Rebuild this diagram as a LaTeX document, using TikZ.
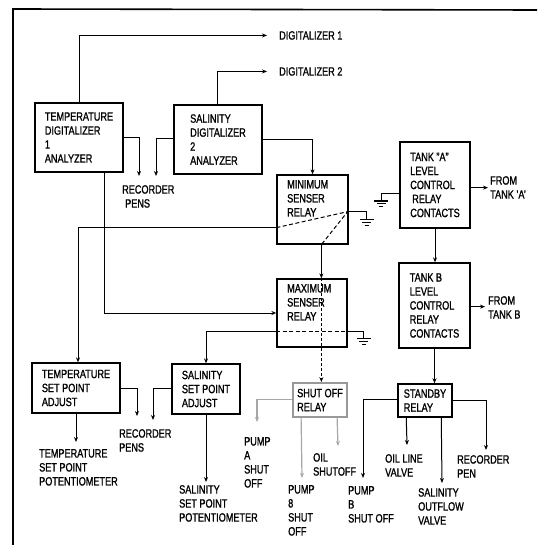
\documentclass[tikz,border=0pt]{standalone}
\usepackage{fontspec}
\setmainfont{Liberation Sans}[FakeStretch=0.76,FakeBold=1.2]
\usetikzlibrary{arrows.meta,calc}
\newcommand{\mygnd}[2][1pt]{%
  \draw[line width=#1] ($(#2)+(-7,0)$) -- ($(#2)+(7,0)$);
  \draw[line width=1pt] ($(#2)+(-4.5,3)$) -- ($(#2)+(4.5,3)$);
  \draw[line width=1pt] ($(#2)+(-2,6)$) -- ($(#2)+(2,6)$);}
\begin{document}
\begin{tikzpicture}[x=1pt,y=-1pt,font=\fontsize{12}{14}\selectfont,
  box/.style={draw, line width=1.3pt, inner sep=0pt, align=left},
  lbl/.style={anchor=north west, inner sep=0pt, align=left},
  wire/.style={line width=1pt},
  gwire/.style={line width=1.2pt, draw=gray!70},
  arr/.style={-{Stealth[length=5pt,width=4pt]}},
  dashes/.style={dash pattern=on 4pt off 2.5pt}]
\useasboundingbox (0,0) rectangle (537,545);
% frame
\draw[line width=1.6pt] (13,545) -- (13,9) -- (537,10);
% boxes
\node[box, minimum width=88pt, minimum height=69pt] (tdig) at (79,137.5) {TEMPERATURE\\DIGITALIZER\\1\\ANALYZER};
\node[box, minimum width=88pt, minimum height=69pt] (sdig) at (218,139.5) {SALINITY\\DIGITALIZER\\2\\ANALYZER};
\node[box, minimum width=71pt, minimum height=69pt] (minr) at (312.5,209.5) {};
\node[lbl] (minT) at (287,180) {MINIMUM\\SENSER\\RELAY};
\node[box, minimum width=70pt, minimum height=68pt] (maxr) at (312,313) {};
\node[lbl] (maxT) at (287,284) {MAXIMUM\\SENSER\\RELAY};
\node[box, minimum width=70pt, minimum height=86pt] (tka) at (435,185) {TANK "A"\\LEVEL\\CONTROL\\\hspace*{2pt}RELAY\\CONTACTS};
\node[box, minimum width=71pt, minimum height=85pt] (tkb) at (434.5,305.5) {TANK B\\LEVEL\\CONTROL\\RELAY\\CONTACTS};
\node[box, minimum width=88pt, minimum height=50pt] (tsp) at (76,388) {TEMPERATURE\\SET POINT\\ADJUST};
\node[box, minimum width=68pt, minimum height=50pt] (ssp) at (206,389) {SALINITY\\SET POINT\\ADJUST};
\node[box, draw=gray!80, line width=1.8pt, minimum width=54pt, minimum height=34pt] (shut) at (320,400) {SHUT OFF\\RELAY};
\node[box, line width=1.5pt, minimum width=54pt, minimum height=33pt] (stby) at (425,400.5) {STANDBY\\RELAY};
% labels
\node[lbl] (dig1) at (279,31) {DIGITALIZER 1};
\node[lbl] (dig2) at (279,67) {DIGITALIZER 2};
\node[lbl] (rp1) at (122,185) {RECORDER\\\hspace*{3pt}PENS};
\node[lbl] (rp2) at (119,429) {RECORDER\\PENS};
\node[lbl] (tpot) at (39,449) {TEMPERATURE\\SET POINT\\POTENTIOMETER};
\node[lbl] (spot) at (179,485) {SALINITY\\SET POINT\\POTENTIOMETER};
\node[lbl] (pa) at (244,437) {PUMP\\A\\SHUT\\OFF};
\node[lbl] (p8) at (288,485) {PUMP\\8\\SHUT\\OFF};
\node[lbl] (oil) at (313,453) {OIL\\SHUTOFF};
\node[lbl] (pb) at (348,486) {PUMP\\B\\SHUT OFF};
\node[lbl] (olv) at (385,454) {OIL LINE\\VALVE};
\node[lbl] (sov) at (418,488) {SALINITY\\OUTFLOW\\VALVE};
\node[lbl] (rpen) at (457,455) {RECORDER\\PEN};
\node[lbl] (fa) at (490,176) {FROM\\TANK 'A'};
\node[lbl] (fb) at (488,296) {FROM\\TANK B};
% digitalizer outputs
\draw[wire,arr] ($(tdig.north west)+(45,0)$) |- ($(dig1.west)+(-12,0)$);
\draw[wire,arr] ($(sdig.north west)+(44,0)$) |- ($(dig2.west)+(-12,0)$);
\draw[wire,arr] ($(tdig.north east)+(0,35)$) -| ($(rp1.north west)+(17,-9)$);
\draw[wire,arr] ($(sdig.north west)+(0,34)$) -| ($(rp1.north west)+(34,-9)$);
\draw[wire,arr] ($(sdig.north east)+(0,35)$) -| (minr.north);
% minimum senser relay
\coordinate (mnL) at ($(minr.south west)+(0,-17)$);
\coordinate (mnR) at ($(minr.south east)+(-1,-33)$);
\coordinate (mnB) at ($(minr.south west)+(45,0)$);
\coordinate (g1) at ($(minr.south east)+(18,-25)$);
\draw[wire,dashes] (mnL) -- (mnR) -- (mnB);
\draw[wire] (mnR) -| (g1);
\mygnd{g1}
\draw[wire,arr] (mnL) -| ($(tsp.north)+(2,0)$);
\coordinate (mx) at ($(maxr.north west)+(45,0)$);
\draw[wire,arr] (mnB) -- (mx);
\draw[wire,dashes,dash pattern=on 3pt off 2pt,arr] (mx) -- (mx |- shut.north);
% maximum senser relay
\draw[wire,arr] ($(tdig.south west)+(70,0)$) |- (maxr.west);
\coordinate (mxL) at ($(maxr.south west)+(0,-16)$);
\coordinate (mxR) at ($(maxr.south east)+(0,-16)$);
\coordinate (g2) at ($(maxr.south east)+(16,-9)$);
\draw[wire,dashes] (mxL) -- (mxR);
\draw[wire] (mxR) -| (g2);
\mygnd{g2}
\draw[wire,arr] (mxL) -| (ssp.north);
% set point adjust outputs
\draw[wire,arr] ($(tsp.north east)+(0,26)$) -| ($(rp2.north west)+(18,-13)$);
\draw[wire,arr] ($(ssp.north west)+(0,25)$) -| ($(rp2.north west)+(34,-9)$);
\draw[wire,arr] (tsp.south) -- ([yshift=7pt]tsp.south |- tpot.north);
\draw[wire,arr] (ssp.south) -- ([yshift=3pt]ssp.south |- spot.north);
% shut off relay outputs
\draw[gwire,arr] ($(shut.north west)+(0,17)$) -| ($(pa.north west)+(13,-15)$);
\draw[gwire,arr] ($(shut.south west)+(9,0)$) -- ($(p8.north west)+(14,-7)$);
\draw[gwire,arr] ($(shut.south west)+(45,0)$) -- ($(oil.north west)+(25,-7)$);
% tanks
\draw[wire,arr] (tka.south) -- (tka.south |- tkb.north);
\coordinate (g3) at ($(tka.south west)+(-18,-28)$);
\draw[wire] ($(tka.south west)+(0,-35)$) -| (g3);
\mygnd[2pt]{g3}
\coordinate (sA) at ($(tka.south east)+(0,-41)$);
\draw[wire,arr] (sA) -- ([xshift=-2pt]sA -| fa.west);
\coordinate (sB) at ($(tkb.south east)+(0,-42)$);
\draw[wire,arr] (sB) -- ([xshift=-3pt]sB -| fb.west);
\draw[wire,arr] (tkb.south) -- (tkb.south |- stby.north);
% standby relay outputs
\draw[wire,arr] ($(stby.north west)+(0,16)$) -| ($(pb.north west)+(15,-8)$);
\draw[wire,arr] ($(stby.south west)+(9,0)$) -- ($(olv.north west)+(22,-9)$);
\draw[wire,arr] ($(stby.south west)+(44,0)$) -- ($(sov.north west)+(24,-5)$);
\draw[wire,arr] ($(stby.north east)+(0,17)$) -| ($(rpen.north west)+(29,-5)$);
\end{tikzpicture}
\end{document}
